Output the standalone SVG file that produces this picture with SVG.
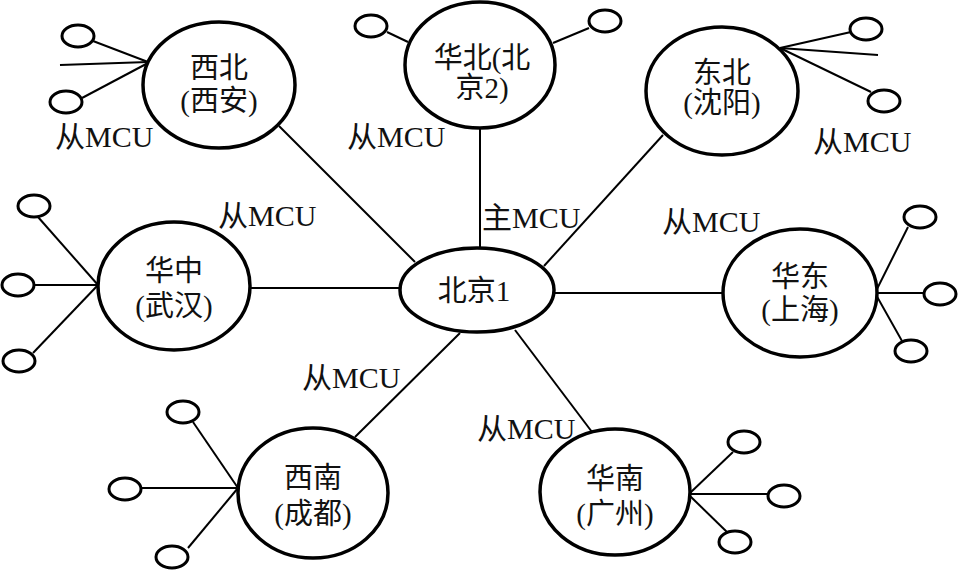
<svg xmlns="http://www.w3.org/2000/svg" width="958" height="570" viewBox="0 0 958 570">
<style>
.big{fill:#fff;stroke:#000;stroke-width:3.5}
.sm{fill:#fff;stroke:#000;stroke-width:3}
.ln{stroke:#000;stroke-width:2;fill:none}
text{font-family:"Liberation Serif","Noto Sans CJK SC",serif;fill:#111}
.nt{font-size:29px;text-anchor:middle}
.lb{font-size:30px}
</style>
<rect width="958" height="570" fill="#fff"/>
<g id="connectors">
<line class="ln" x1="279" y1="126" x2="415" y2="262"/>
<line class="ln" x1="480" y1="128" x2="480" y2="249"/>
<line class="ln" x1="663" y1="135" x2="544" y2="266"/>
<line class="ln" x1="250" y1="288" x2="400" y2="288"/>
<line class="ln" x1="555" y1="293" x2="723" y2="293"/>
<line class="ln" x1="355" y1="437" x2="460" y2="333"/>
<line class="ln" x1="515" y1="330" x2="592" y2="432"/>
<line class="ln" x1="93" y1="41" x2="148" y2="62"/>
<line class="ln" x1="60" y1="65" x2="148" y2="62"/>
<line class="ln" x1="82" y1="98" x2="148" y2="63"/>
<line class="ln" x1="387" y1="32" x2="408" y2="42"/>
<line class="ln" x1="589" y1="28" x2="553" y2="43"/>
<line class="ln" x1="851" y1="32" x2="780" y2="48"/>
<line class="ln" x1="878" y1="55" x2="780" y2="48"/>
<line class="ln" x1="871" y1="92" x2="780" y2="48"/>
<line class="ln" x1="38" y1="217" x2="98" y2="285"/>
<line class="ln" x1="35" y1="285" x2="98" y2="285"/>
<line class="ln" x1="33" y1="353" x2="98" y2="285"/>
<line class="ln" x1="908" y1="227" x2="875" y2="293"/>
<line class="ln" x1="923" y1="293" x2="875" y2="293"/>
<line class="ln" x1="902" y1="341" x2="875" y2="293"/>
<line class="ln" x1="193" y1="422" x2="238" y2="488"/>
<line class="ln" x1="142" y1="488" x2="238" y2="488"/>
<line class="ln" x1="188" y1="548" x2="238" y2="488"/>
<line class="ln" x1="733" y1="452" x2="690" y2="493"/>
<line class="ln" x1="767" y1="494" x2="690" y2="494"/>
<line class="ln" x1="728" y1="533" x2="690" y2="496"/>
</g>
<g id="leaves">
<ellipse class="sm" cx="78" cy="36" rx="16" ry="11"/>
<ellipse class="sm" cx="66" cy="102" rx="16" ry="11"/>
<ellipse class="sm" cx="371" cy="26" rx="16" ry="11"/>
<ellipse class="sm" cx="605" cy="21" rx="16" ry="11"/>
<ellipse class="sm" cx="866" cy="29" rx="16" ry="11"/>
<ellipse class="sm" cx="884" cy="101" rx="16" ry="11"/>
<ellipse class="sm" cx="34" cy="206" rx="16" ry="11"/>
<ellipse class="sm" cx="18" cy="285" rx="16" ry="11"/>
<ellipse class="sm" cx="19" cy="361" rx="16" ry="11"/>
<ellipse class="sm" cx="920" cy="217" rx="16" ry="11"/>
<ellipse class="sm" cx="940" cy="294" rx="16" ry="11"/>
<ellipse class="sm" cx="911" cy="351" rx="16" ry="11"/>
<ellipse class="sm" cx="183" cy="412" rx="16" ry="11"/>
<ellipse class="sm" cx="125" cy="489" rx="16" ry="11"/>
<ellipse class="sm" cx="172" cy="557" rx="16" ry="11"/>
<ellipse class="sm" cx="744" cy="442" rx="16" ry="11"/>
<ellipse class="sm" cx="784" cy="496" rx="16" ry="11"/>
<ellipse class="sm" cx="735" cy="542" rx="16" ry="11"/>
</g>
<g id="n-xibei">
<ellipse class="big" cx="219" cy="85" rx="76" ry="63"/>
<text class="nt" x="219" y="78">西北</text>
<text class="nt" x="219" y="111">(西安)</text>
</g>
<g id="n-huabei">
<ellipse class="big" cx="480" cy="65" rx="75" ry="63"/>
<text class="nt" x="482" y="68">华北(北</text>
<text class="nt" x="482" y="98">京2)</text>
</g>
<g id="n-dongbei">
<ellipse class="big" cx="722" cy="91" rx="76" ry="64"/>
<text class="nt" x="722" y="83">东北</text>
<text class="nt" x="722" y="113">(沈阳)</text>
</g>
<g id="n-huazhong">
<ellipse class="big" cx="174" cy="286" rx="76" ry="64"/>
<text class="nt" x="174" y="281">华中</text>
<text class="nt" x="174" y="316">(武汉)</text>
</g>
<g id="n-beijing1">
<ellipse class="big" cx="477" cy="290" rx="77" ry="42"/>
<text class="nt" x="474" y="301">北京1</text>
</g>
<g id="n-huadong">
<ellipse class="big" cx="800" cy="293" rx="77" ry="64"/>
<text class="nt" x="800" y="287">华东</text>
<text class="nt" x="800" y="320">(上海)</text>
</g>
<g id="n-xinan">
<ellipse class="big" cx="313" cy="493" rx="75" ry="65"/>
<text class="nt" x="313" y="488">西南</text>
<text class="nt" x="313" y="524">(成都)</text>
</g>
<g id="n-huanan">
<ellipse class="big" cx="615" cy="492" rx="75" ry="63"/>
<text class="nt" x="615" y="489">华南</text>
<text class="nt" x="615" y="524">(广州)</text>
</g>
<g id="labels">
<text class="lb" x="55" y="147">从MCU</text>
<text class="lb" x="347" y="147">从MCU</text>
<text class="lb" x="813" y="152">从MCU</text>
<text class="lb" x="218" y="226">从MCU</text>
<text class="lb" x="482" y="228">主MCU</text>
<text class="lb" x="662" y="232">从MCU</text>
<text class="lb" x="302" y="388">从MCU</text>
<text class="lb" x="477" y="439">从MCU</text>
</g>
</svg>
